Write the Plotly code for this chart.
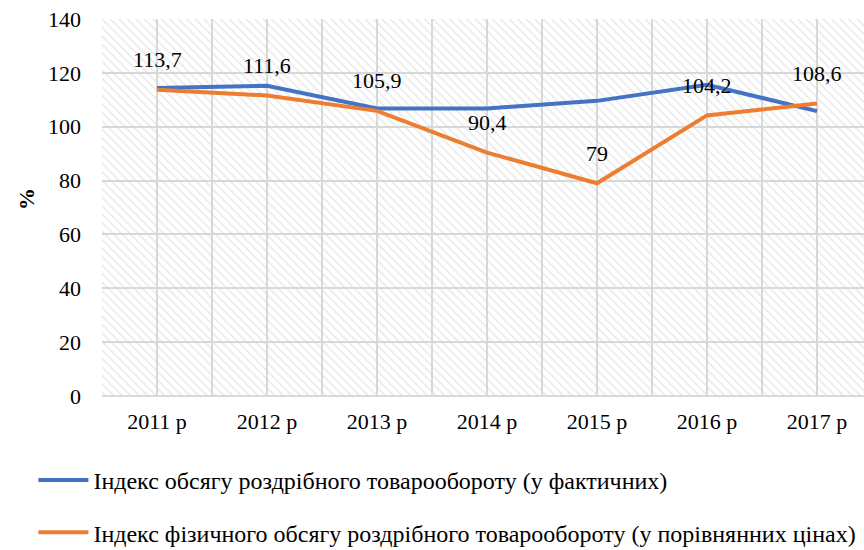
import plotly.graph_objects as go

years = ["2011 р", "2012 р", "2013 р", "2014 р", "2015 р", "2016 р", "2017 р"]
actual_index = [114.4, 115.2, 106.8, 106.8, 109.6, 115.6, 105.8]
physical_index = [113.7, 111.6, 105.9, 90.4, 79.0, 104.2, 108.6]
series_names = [
    "Індекс обсягу роздрібного товарообороту (у фактичних)",
    "Індекс фізичного обсягу роздрібного товарообороту (у порівнянних цінах)",
]
y_ticks = [0, 20, 40, 60, 80, 100, 120, 140]
y_title = "%"

FONT = "'Liberation Serif', Tinos, 'Times New Roman', 'Noto Serif', 'DejaVu Serif', serif"
BLUE = "#4472C4"
ORANGE = "#ED7D31"
GRID = "#d9d9d9"

x = list(range(len(years)))
y_max = y_ticks[-1]

fig = go.Figure()

# hatched plot-area background
fig.add_trace(go.Bar(
    x=x, y=[y_max] * len(x), width=1,
    marker=dict(color="rgba(0,0,0,0)", line=dict(width=0),
                pattern=dict(shape="\\", fgcolor="#d2d2d2", bgcolor="rgba(0,0,0,0)",
                             size=6, solidity=0.25)),
    showlegend=False, hoverinfo="skip",
))

fig.add_trace(go.Scatter(
    x=x, y=actual_index, mode="lines", name=series_names[0],
    line=dict(color=BLUE, width=4), legendgroup="a",
))
fig.add_trace(go.Scatter(
    x=x, y=physical_index, mode="lines", name=series_names[1],
    line=dict(color=ORANGE, width=4), legendgroup="b",
))

for xi, v in zip(x, physical_index):
    fig.add_annotation(
        x=xi, y=v, text=(f"{v:g}").replace(".", ","), showarrow=False,
        yshift=30, font=dict(family=FONT, size=22, color="#000000"),
    )

# y-axis title
fig.add_annotation(
    xref="paper", yref="paper", x=0, y=0.5, xshift=-90, yshift=8,
    text=f"<b>{y_title}</b>", textangle=-90, showarrow=False,
    font=dict(family=FONT, size=22, color="#000000"),
)

tickvals = []
ticktext = []
for i, yr in enumerate(years):
    tickvals += [i - 0.5, i]
    ticktext += ["", yr]
tickvals.append(len(years) - 0.5)
ticktext.append("")

fig.update_layout(
    width=864, height=550,
    margin=dict(l=102, r=0, t=19, b=154, autoexpand=False),
    paper_bgcolor="white", plot_bgcolor="white",
    font=dict(family=FONT, size=22, color="#000000"),
    barmode="overlay",
    showlegend=True,
    legend=dict(
        orientation="v", x=-0.09, xanchor="left", y=-0.164, yanchor="top",
        font=dict(family=FONT, size=24), tracegroupgap=18, itemwidth=50,
        bgcolor="rgba(0,0,0,0)",
    ),
    xaxis=dict(
        range=[-0.5, -0.5 + 762 / 110], tickvals=tickvals, ticktext=ticktext,
        showgrid=True, gridcolor=GRID, gridwidth=1.5, zeroline=False,
        showline=False, ticks="", ticklabelstandoff=10, automargin=False,
    ),
    yaxis=dict(
        range=[0, y_max], tickvals=y_ticks, showgrid=True, gridcolor=GRID,
        gridwidth=1.5, zeroline=True, zerolinecolor=GRID, zerolinewidth=2,
        ticks="", ticklabelstandoff=20, automargin=False,
    ),
)

fig.write_html("out.html", config={"displayModeBar": False},
               post_script="document.body.style.margin='0';")
